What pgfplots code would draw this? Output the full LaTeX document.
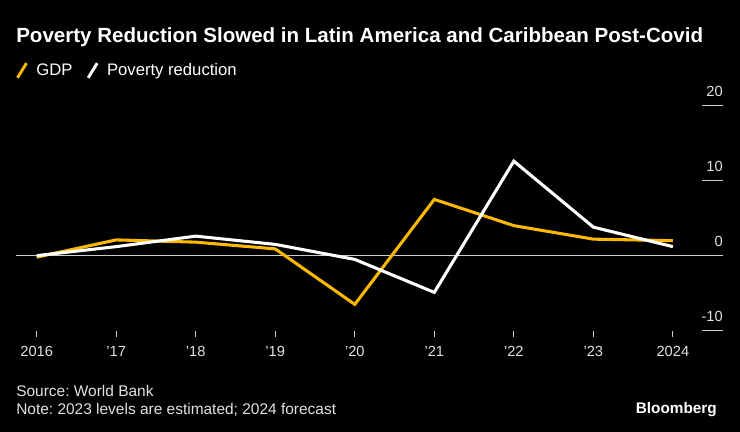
\documentclass[border=0pt]{standalone}
\usepackage{pgfplots}
\pgfplotsset{compat=1.18}
\usepackage{fontspec}
\setmainfont{Liberation Sans}
\frenchspacing
\definecolor{bbyellow}{RGB}{250,184,0}
\definecolor{gridc}{RGB}{205,205,205}
\definecolor{txtc}{RGB}{225,225,225}
\begin{document}
\begin{tikzpicture}
\fill[black] (0,0) rectangle (555pt,-324pt);
\path[use as bounding box] (0,0) rectangle (555pt,-324pt);
\node[anchor=base west, inner sep=0pt, text=white, font=\bfseries\fontsize{15.4}{18}\selectfont] at (12pt,-31.5pt) {Poverty Reduction Slowed in Latin America and Caribbean Post-Covid};
\begin{axis}[
  at={(12pt,-252.75pt)}, anchor=south west,
  scale only axis, width=530.25pt, height=173.5pt,
  xmin=-0.26, xmax=8.63, ymin=-10.85, ymax=20,
  clip=false,
  axis line style={draw=none},
  xtick pos=bottom, ytick pos=right, yticklabel pos=right,
  tick align=inside, major tick length=4.5pt,
  xtick={0,1,2,3,4,5,6,7,8},
  xticklabels={2016,{'17},{'18},{'19},{'20},{'21},{'22},{'23},2024},
  xtick style={gridc, line width=0.75pt},
  ytick={-10,0,10,20},
  yticklabels={-10,0,10,20},
  ytick style={draw=none},
  extra y ticks={0}, extra y tick labels={},
  extra y tick style={grid=major, major grid style={gridc, line width=0.75pt}, tick style={draw=none}},
  ticklabel style={text=txtc, font=\fontsize{11}{13}\selectfont, inner sep=0pt},
  xticklabel style={anchor=north, yshift=-7pt},
  yticklabel style={anchor=south east, yshift=6.75pt},
  legend style={at={(axis description cs:0,1.152)}, anchor=west, draw=none, fill=none, text=white,
    font=\fontsize{12.5}{14}\selectfont, inner sep=0pt, outer sep=0pt,
    /tikz/every even column/.append style={column sep=8.7pt}},
  legend columns=-1,
  legend image code/.code={\draw[#1, line width=2.2pt] (0pt,-5.5pt) -- (6.75pt,5.5pt); \path (11pt,0pt);},
]
\addplot[bbyellow, line width=2.3pt] coordinates {
(0,-0.2) (1,2.1) (2,1.8) (3,0.9) (4,-6.5) (5,7.5) (6,4.0) (7,2.2) (8,2.0)};
\addlegendentry{GDP}
\addplot[white, line width=2.3pt] coordinates {
(0,0.0) (1,1.2) (2,2.6) (3,1.5) (4,-0.5) (5,-4.9) (6,12.6) (7,3.8) (8,1.2)};
\addlegendentry{Poverty reduction}
\draw[gridc, line width=0.75pt] (rel axis cs:1,1) -- (rel axis cs:0.9703,1);
\draw[gridc, line width=0.75pt] (rel axis cs:1,0.6759) -- (rel axis cs:0.9703,0.6759);
\draw[gridc, line width=0.75pt] (rel axis cs:1,0.02755) -- (rel axis cs:0.9703,0.02755);
\end{axis}
\node[anchor=base west, inner sep=0pt, text=txtc, font=\fontsize{11.6}{13}\selectfont] at (12pt,-297pt) {Source: World Bank};
\node[anchor=base west, inner sep=0pt, text=txtc, font=\fontsize{11.6}{13}\selectfont] at (12pt,-310.5pt) {Note: 2023 levels are estimated; 2024 forecast};
\node[anchor=base east, inner sep=0pt, text=white, font=\bfseries\fontsize{11.5}{13}\selectfont] at (537.75pt,-309.75pt) {Bloomberg};
\end{tikzpicture}
\end{document}
